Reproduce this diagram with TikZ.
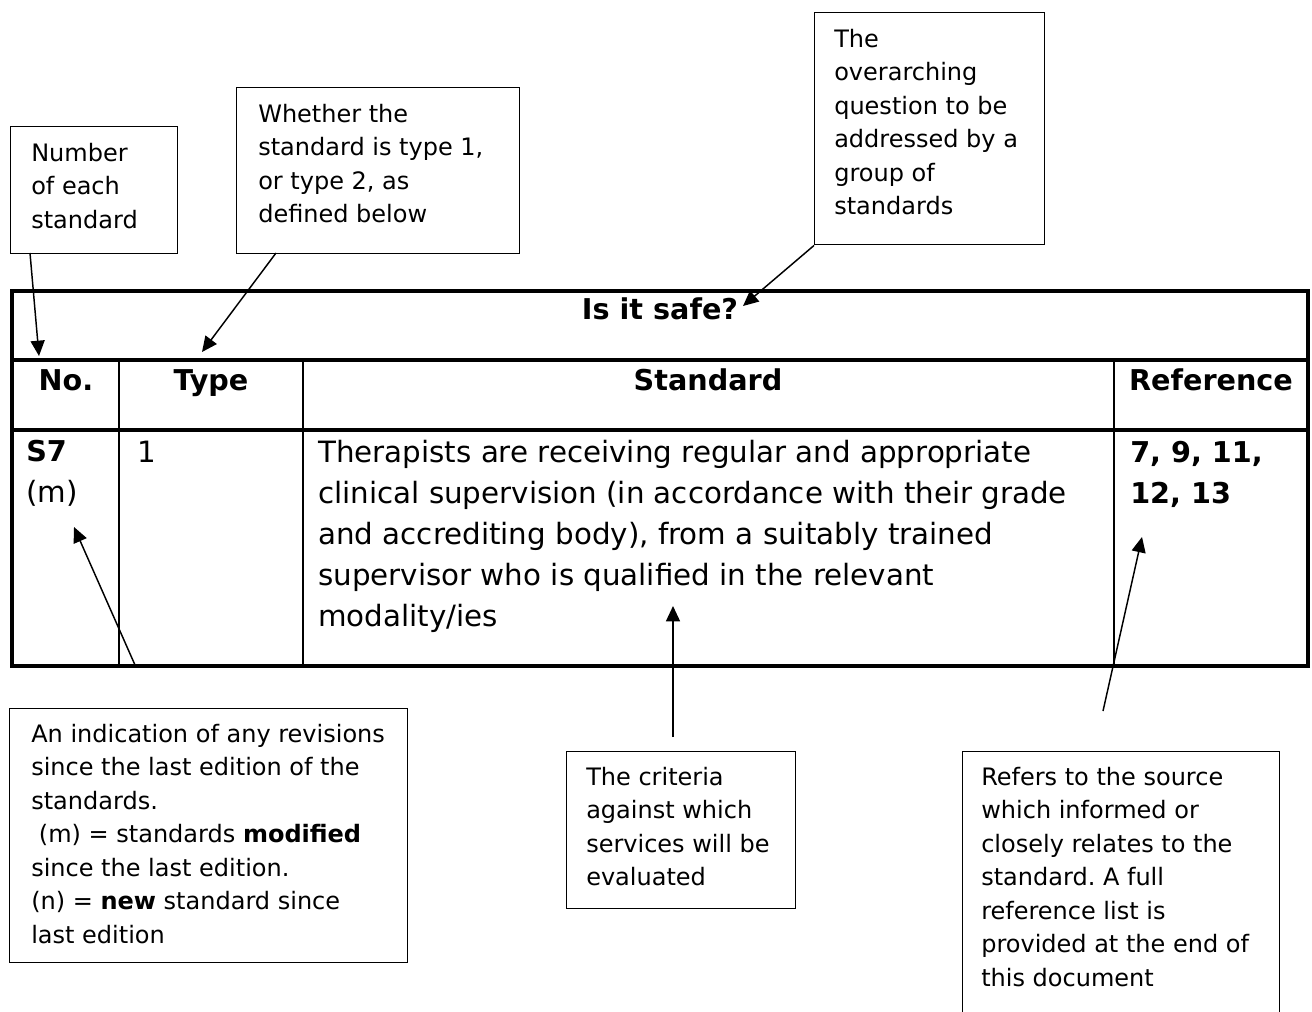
\documentclass[tikz,border=0pt]{standalone}
\usepackage{fontspec}
\setmainfont{DejaVu Sans}
\usetikzlibrary{arrows.meta}
\frenchspacing
\begin{document}
\begin{tikzpicture}[x=0.75pt,y=-0.75pt,
  tbl/.style={line width=2.3pt},
  col/.style={line width=1.7pt},
  cbox/.style={draw, line width=1.1pt, inner sep=0pt, anchor=north west},
  ctext/.style={inner sep=0pt, anchor=north west, align=left, font=\fontsize{18}{25.1}\selectfont},
  ttext/.style={inner sep=0pt, font=\fontsize{22}{30.75}\selectfont},
  tbold/.style={inner sep=0pt, font=\fontsize{21.5}{30.75}\selectfont\bfseries},
  thead/.style={inner sep=0pt, anchor=base, font=\fontsize{21.5}{30.75}\selectfont\bfseries},
  arr/.style={line width=1.1pt, -{Triangle[length=11.5pt,width=10.5pt]}},
]
\useasboundingbox (0,0) rectangle (1312,1012);

% callout boxes
\node[cbox, minimum width=125.25pt, minimum height=95.25pt] (box1) at (10,126) {};
\node[cbox, minimum width=212.25pt, minimum height=124.5pt] (box2) at (236,87) {};
\node[cbox, minimum width=172.5pt, minimum height=174pt] (box3) at (814,12) {};
\node[cbox, minimum width=298.5pt, minimum height=190.5pt] (box4) at (9,708) {};
\node[cbox, minimum width=171.75pt, minimum height=117.75pt] (box5) at (566,751) {};
\node[cbox, minimum width=237.75pt, minimum height=210pt] (box6) at (962,751) {};

% callout texts
\node[ctext] (c1) at (31,143) {Number\\of each\\standard};
\node[ctext] (c2) at (258,104) {Whether the\\standard is type 1,\\or type 2, as\\defined below};
\node[ctext] (c3) at (834,29) {The\\overarching\\question to be\\addressed by a\\group of\\standards};
\node[ctext] (c4) at (31,724) {An indication of any revisions\\since the last edition of the\\standards.\\\hspace*{0.32em}(m) = standards \textbf{modified}\\since the last edition.\\(n) = \textbf{new} standard since\\last edition};
\node[ctext] (c5) at (586,767) {The criteria\\against which\\services will be\\evaluated};
\node[ctext] (c6) at (981,767) {Refers to the source\\which informed or\\closely relates to the\\standard. A full\\reference list is\\provided at the end of\\this document};

% table
\draw[tbl] (12,291) rectangle (1308,666);
\draw[tbl] (12,360) -- (1308,360);
\draw[tbl] (12,430) -- (1308,430);
\draw[col] (119,360) -- (119,666);
\draw[col] (303,360) -- (303,666);
\draw[col] (1114,360) -- (1114,666);

\node[thead] (q) at (660,320) {Is it safe?};
\node[thead] (hno) at (66,390) {No.};
\node[thead] (htype) at (211,390) {Type};
\node[thead] (hstd) at (708,390) {Standard};
\node[thead] (href) at (1211,390) {Reference};

\node[ttext, anchor=north west, align=left] (s7) at (26,440) {\textbf{\fontsize{21.5}{30.75}\selectfont S7}\\(m)};
\node[ttext, anchor=north west] (t1) at (137,441) {1};
\node[ttext, anchor=north west, align=left] (std) at (318,440) {Therapists are receiving regular and appropriate\\clinical supervision (in accordance with their grade\\and accrediting body), from a suitably trained\\supervisor who is qualified in the relevant\\modality/ies};
\node[tbold, anchor=north west, align=left] (ref) at (1130,441) {7, 9, 11,\\12, 13};

% arrow end points
\coordinate (a1s) at (30,253);
\coordinate (a1e) at (39,356);
\coordinate (a2s) at (276,253);
\coordinate (a2e) at (202,352);
\coordinate (a3e) at (743,306);
\coordinate (a4s) at (135,665);
\coordinate (a4e) at (74,527);
\coordinate (a5s) at (673,737);
\coordinate (a5e) at (673,606);
\coordinate (a6s) at (1103,711);
\coordinate (a6e) at (1142,537);

\draw[arr] (a1s) -- (a1e);
\draw[arr] (a2s) -- (a2e);
\draw[arr] (box3.south west) -- (a3e);
\draw[arr] (a4s) -- (a4e);
\draw[arr] (a5s) -- (a5e);
\draw[arr] (a6s) -- (a6e);
\end{tikzpicture}
\end{document}
